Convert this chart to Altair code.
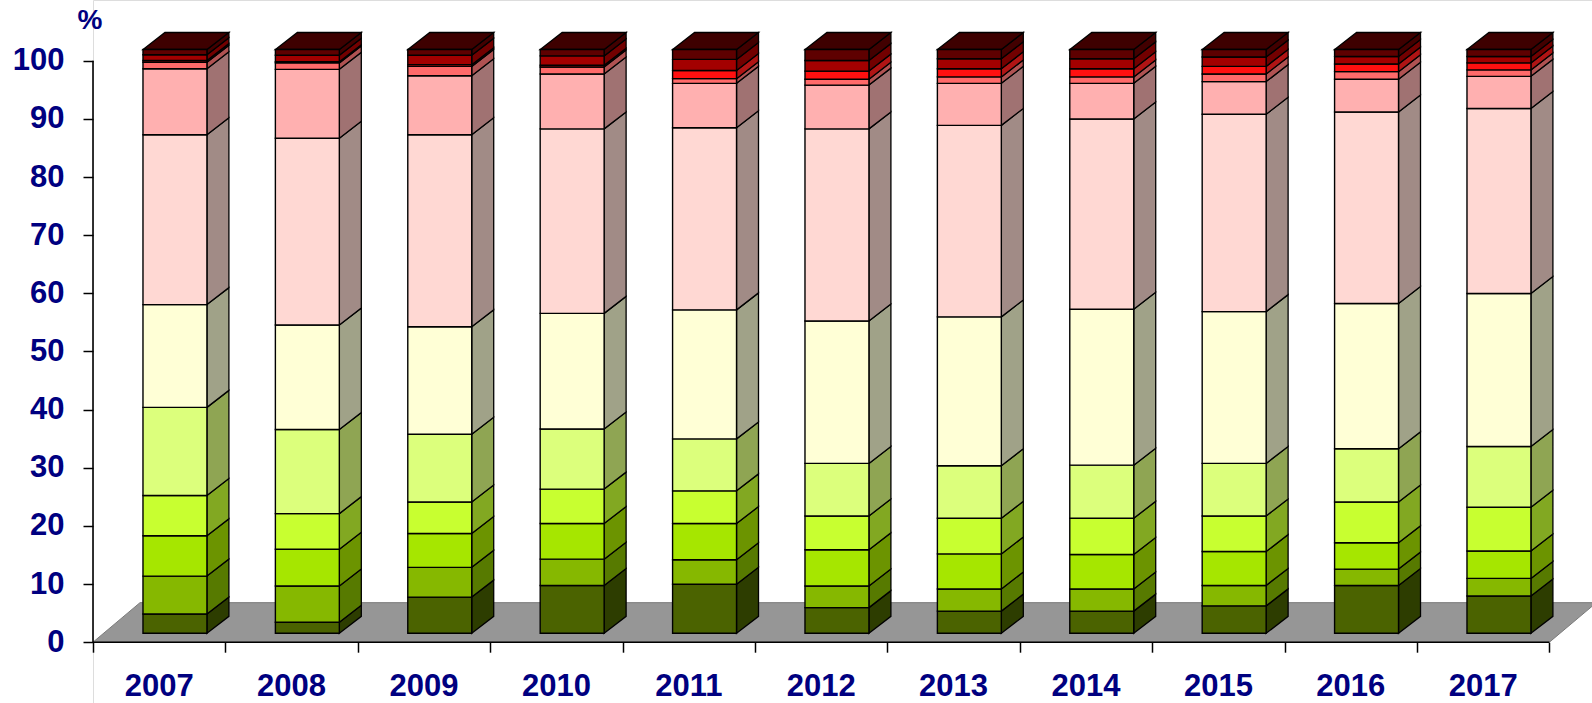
import altair as alt
import pandas as pd

# ---- data: share of each band (%) per year, bottom to top ----
years = ["2007", "2008", "2009", "2010", "2011", "2012", "2013", "2014", "2015", "2016", "2017"]

band_dark_olive = [3.3, 1.9, 6.2, 8.2, 8.4, 4.4, 3.8, 3.8, 4.7, 8.2, 6.4]
band_olive = [6.5, 6.2, 5.1, 4.5, 4.2, 3.7, 3.8, 3.8, 3.5, 2.8, 3.0]
band_green = [6.9, 6.3, 5.8, 6.1, 6.2, 6.2, 6.0, 5.9, 5.8, 4.5, 4.7]
band_lime = [6.9, 6.1, 5.4, 5.9, 5.6, 5.8, 6.1, 6.2, 6.1, 7.0, 7.5]
band_light_lime = [15.1, 14.4, 11.6, 10.3, 8.9, 9.0, 9.0, 9.1, 9.0, 9.1, 10.4]
band_cream = [17.6, 17.9, 18.4, 19.8, 22.1, 24.4, 25.5, 26.7, 26.0, 24.9, 26.2]
band_blush = [29.1, 32.0, 32.9, 31.6, 31.2, 32.9, 32.8, 32.6, 33.8, 32.8, 31.7]
band_pink = [11.3, 11.8, 10.1, 9.4, 7.6, 7.5, 7.2, 6.1, 5.6, 5.6, 5.5]
band_salmon = [1.1, 1.1, 1.6, 1.2, 0.8, 1.0, 1.1, 1.1, 1.3, 1.3, 1.1]
band_red = [0.3, 0.2, 0.3, 0.3, 1.4, 1.4, 1.4, 1.4, 1.3, 1.3, 1.2]
band_dark_red = [1.0, 1.1, 1.6, 1.6, 1.9, 1.8, 1.7, 1.7, 1.6, 1.3, 1.1]
band_maroon = [0.9, 1.0, 1.0, 1.1, 1.7, 1.9, 1.6, 1.6, 1.3, 1.2, 1.2]

bands = [band_dark_olive, band_olive, band_green, band_lime, band_light_lime, band_cream,
         band_blush, band_pink, band_salmon, band_red, band_dark_red, band_maroon]

y_ticks = list(range(0, 101, 10))

# ---- styling ----
front_colors = ["#4b6300", "#86b800", "#a6e600", "#c8ff30", "#dcff7c", "#ffffd6",
                "#ffd8d3", "#ffb0b0", "#ff6a6a", "#ff1010", "#a30000", "#5e0000"]
side_colors = ["#2d3d00", "#577a00", "#6c9400", "#82a822", "#8fa553", "#a0a288",
               "#a18b86", "#a07272", "#b05252", "#b01414", "#720000", "#420000"]
top_color = "#3e0000"
floor_color = "#969696"
navy = "#000080"
font = "Liberation Sans"

# ---- oblique 3-D geometry in data units (x: one unit per year slot, y: percent) ----
W_PX, H_PX, LEFT_PX = 1499, 703, 93
slot_px = 132.4
pct_px = 5.815
zero_px = 642.2
x_max = W_PX / slot_px
y_min = (zero_px - H_PX) / pct_px
y_max = zero_px / pct_px

bar_left = 0.3775        # front face left edge inside a slot
bar_width = 0.483
depth_dx = 0.166         # receding edge of a bar
depth_dy = 2.92
bar_base = 1.53          # bars stand back from the floor's front edge
bar_k = 1.004
floor_dx = 0.355
floor_dy = 6.8
label_y = (zero_px - 696) / pct_px   # baseline of the year labels

front_rows, side_rows, top_rows = [], [], []
for i, yr in enumerate(years):
    x0 = i + bar_left
    x1 = x0 + bar_width
    cum = 0.0
    for s, band in enumerate(bands):
        lo = bar_base + bar_k * cum
        cum += band[i]
        hi = bar_base + bar_k * cum
        front_rows.append(dict(year=yr, band=s, x=x0, x2=x1, y=lo, y2=hi, fill=front_colors[s]))
        key = f"{yr}-{s}"
        side_rows.append(dict(key=key, x=x1, y=lo, y2=hi, fill=side_colors[s]))
        side_rows.append(dict(key=key, x=x1 + depth_dx, y=lo + depth_dy, y2=hi + depth_dy, fill=side_colors[s]))
    t = bar_base + bar_k * cum
    for xx, lo, hi in [(x0, t, t), (x0 + depth_dx, t, t + depth_dy),
                       (x1, t, t + depth_dy), (x1 + depth_dx, t + depth_dy, t + depth_dy)]:
        top_rows.append(dict(key=yr, x=xx, y=lo, y2=hi))

n = len(years)
floor_df = pd.DataFrame(dict(x=[0, floor_dx, n, n + floor_dx],
                             y=[0, 0, 0, floor_dy],
                             y2=[0, floor_dy, floor_dy, floor_dy]))
axis_lines = pd.DataFrame(dict(x=[0, 0], x2=[0, n], y=[0, 0], y2=[100, 0]))
label_df = pd.DataFrame(dict(year=years, x=[i + 0.5 for i in range(n)], y=[label_y] * n))

xs = alt.Scale(domain=[0, x_max], nice=False, zero=False)
ys = alt.Scale(domain=[y_min, y_max], nice=False, zero=False)

x_axis = alt.Axis(values=list(range(n + 1)), labels=False, tickSize=10, tickWidth=1.5,
                  tickColor="black", domain=False, grid=False, title=None, offset=-(H_PX - zero_px))
y_axis = alt.Axis(values=y_ticks, tickSize=10, tickWidth=1.5, tickColor="black", domain=False,
                  grid=False, labelFont=font, labelFontSize=31, labelFontWeight="bold",
                  labelColor=navy, labelPadding=19, title="%", titleAngle=0, titleFont=font,
                  titleFontSize=28, titleFontWeight="bold", titleColor=navy, titleX=-3.5,
                  titleY=20, titleAlign="center", titleBaseline="middle")

floor = alt.Chart(floor_df).mark_area(color=floor_color, stroke="#7a7a7a", strokeWidth=1).encode(
    x=alt.X("x:Q", scale=xs, axis=x_axis),
    y=alt.Y("y:Q", scale=ys, axis=y_axis),
    y2="y2:Q",
)

sides = alt.Chart(pd.DataFrame(side_rows)).mark_area(stroke="black", strokeWidth=1.3).encode(
    x=alt.X("x:Q", scale=xs),
    y=alt.Y("y:Q", scale=ys),
    y2="y2:Q",
    fill=alt.Fill("fill:N", scale=None),
    detail="key:N",
)

tops = alt.Chart(pd.DataFrame(top_rows)).mark_area(color=top_color, stroke="black", strokeWidth=1.3).encode(
    x=alt.X("x:Q", scale=xs),
    y=alt.Y("y:Q", scale=ys),
    y2="y2:Q",
    detail="key:N",
)

fronts = alt.Chart(pd.DataFrame(front_rows)).mark_rect(stroke="black", strokeWidth=1.4).encode(
    x=alt.X("x:Q", scale=xs),
    x2="x2:Q",
    y=alt.Y("y:Q", scale=ys),
    y2="y2:Q",
    fill=alt.Fill("fill:N", scale=None),
)

lines = alt.Chart(axis_lines).mark_rule(color="black", strokeWidth=1.6).encode(
    x=alt.X("x:Q", scale=xs), x2="x2:Q", y=alt.Y("y:Q", scale=ys), y2="y2:Q"
)

labels = alt.Chart(label_df).mark_text(font=font, fontSize=31, fontWeight="bold", color=navy,
                                       baseline="alphabetic", align="center").encode(
    x=alt.X("x:Q", scale=xs), y=alt.Y("y:Q", scale=ys), text="year:N"
)

chart = alt.layer(floor, sides, tops, fronts, lines, labels).properties(
    width=W_PX, height=H_PX,
    autosize=alt.AutoSizeParams(type="none"),
    padding={"left": LEFT_PX, "top": 0, "right": 0, "bottom": 0},
).configure_view(stroke=None).configure(background="white")

chart.save("out.html", embed_options={"renderer": "svg", "actions": False})
